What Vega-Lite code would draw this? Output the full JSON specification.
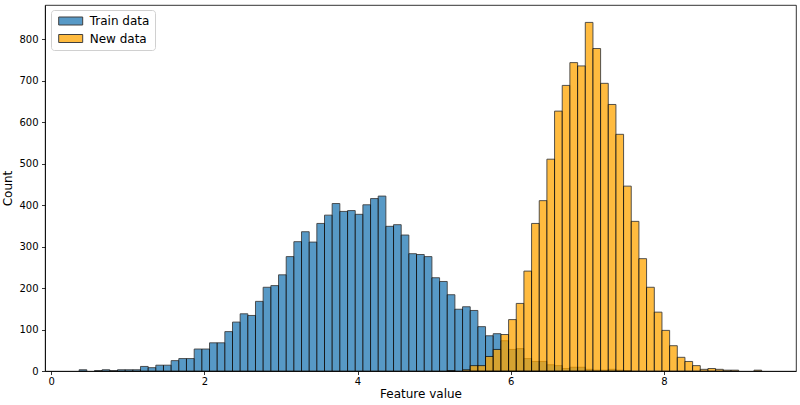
{
  "$schema": "https://vega.github.io/schema/vega-lite/v6.json",
  "width": 751,
  "height": 366,
  "autosize": {"type": "none"},
  "padding": {"left": 45, "top": 5, "right": 4, "bottom": 34},
  "background": "white",
  "data": {
    "values": [
      {"series": "Train data", "start": 0.366, "end": 0.466, "count": 3},
      {"series": "Train data", "start": 0.566, "end": 0.666, "count": 1},
      {"series": "Train data", "start": 0.666, "end": 0.766, "count": 3},
      {"series": "Train data", "start": 0.766, "end": 0.867, "count": 1},
      {"series": "Train data", "start": 0.867, "end": 0.967, "count": 3},
      {"series": "Train data", "start": 0.967, "end": 1.067, "count": 3},
      {"series": "Train data", "start": 1.067, "end": 1.167, "count": 3},
      {"series": "Train data", "start": 1.167, "end": 1.267, "count": 11},
      {"series": "Train data", "start": 1.267, "end": 1.367, "count": 8},
      {"series": "Train data", "start": 1.367, "end": 1.467, "count": 14},
      {"series": "Train data", "start": 1.467, "end": 1.567, "count": 14},
      {"series": "Train data", "start": 1.567, "end": 1.667, "count": 25},
      {"series": "Train data", "start": 1.667, "end": 1.767, "count": 30},
      {"series": "Train data", "start": 1.767, "end": 1.868, "count": 30},
      {"series": "Train data", "start": 1.868, "end": 1.968, "count": 53},
      {"series": "Train data", "start": 1.968, "end": 2.068, "count": 53},
      {"series": "Train data", "start": 2.068, "end": 2.168, "count": 68},
      {"series": "Train data", "start": 2.168, "end": 2.268, "count": 68},
      {"series": "Train data", "start": 2.268, "end": 2.368, "count": 95},
      {"series": "Train data", "start": 2.368, "end": 2.468, "count": 118},
      {"series": "Train data", "start": 2.468, "end": 2.568, "count": 138},
      {"series": "Train data", "start": 2.568, "end": 2.668, "count": 134},
      {"series": "Train data", "start": 2.668, "end": 2.768, "count": 168},
      {"series": "Train data", "start": 2.768, "end": 2.869, "count": 202},
      {"series": "Train data", "start": 2.869, "end": 2.969, "count": 206},
      {"series": "Train data", "start": 2.969, "end": 3.069, "count": 232},
      {"series": "Train data", "start": 3.069, "end": 3.169, "count": 276},
      {"series": "Train data", "start": 3.169, "end": 3.269, "count": 312},
      {"series": "Train data", "start": 3.269, "end": 3.369, "count": 336},
      {"series": "Train data", "start": 3.369, "end": 3.469, "count": 311},
      {"series": "Train data", "start": 3.469, "end": 3.569, "count": 356},
      {"series": "Train data", "start": 3.569, "end": 3.669, "count": 376},
      {"series": "Train data", "start": 3.669, "end": 3.769, "count": 404},
      {"series": "Train data", "start": 3.769, "end": 3.870, "count": 385},
      {"series": "Train data", "start": 3.870, "end": 3.970, "count": 387},
      {"series": "Train data", "start": 3.970, "end": 4.070, "count": 378},
      {"series": "Train data", "start": 4.070, "end": 4.170, "count": 401},
      {"series": "Train data", "start": 4.170, "end": 4.270, "count": 416},
      {"series": "Train data", "start": 4.270, "end": 4.370, "count": 422},
      {"series": "Train data", "start": 4.370, "end": 4.470, "count": 349},
      {"series": "Train data", "start": 4.470, "end": 4.570, "count": 353},
      {"series": "Train data", "start": 4.570, "end": 4.670, "count": 328},
      {"series": "Train data", "start": 4.670, "end": 4.770, "count": 283},
      {"series": "Train data", "start": 4.770, "end": 4.871, "count": 281},
      {"series": "Train data", "start": 4.871, "end": 4.971, "count": 276},
      {"series": "Train data", "start": 4.971, "end": 5.071, "count": 225},
      {"series": "Train data", "start": 5.071, "end": 5.171, "count": 216},
      {"series": "Train data", "start": 5.171, "end": 5.271, "count": 184},
      {"series": "Train data", "start": 5.271, "end": 5.371, "count": 149},
      {"series": "Train data", "start": 5.371, "end": 5.471, "count": 155},
      {"series": "Train data", "start": 5.471, "end": 5.571, "count": 146},
      {"series": "Train data", "start": 5.571, "end": 5.671, "count": 107},
      {"series": "Train data", "start": 5.671, "end": 5.771, "count": 85},
      {"series": "Train data", "start": 5.771, "end": 5.872, "count": 90},
      {"series": "Train data", "start": 5.872, "end": 5.972, "count": 73},
      {"series": "Train data", "start": 5.972, "end": 6.072, "count": 52},
      {"series": "Train data", "start": 6.072, "end": 6.172, "count": 54},
      {"series": "Train data", "start": 6.172, "end": 6.272, "count": 30},
      {"series": "Train data", "start": 6.272, "end": 6.372, "count": 23},
      {"series": "Train data", "start": 6.372, "end": 6.472, "count": 23},
      {"series": "Train data", "start": 6.472, "end": 6.572, "count": 15},
      {"series": "Train data", "start": 6.572, "end": 6.672, "count": 13},
      {"series": "Train data", "start": 6.672, "end": 6.772, "count": 6},
      {"series": "Train data", "start": 6.772, "end": 6.873, "count": 9},
      {"series": "Train data", "start": 6.873, "end": 6.973, "count": 9},
      {"series": "Train data", "start": 6.973, "end": 7.073, "count": 4},
      {"series": "Train data", "start": 7.073, "end": 7.173, "count": 2},
      {"series": "Train data", "start": 7.173, "end": 7.273, "count": 2},
      {"series": "Train data", "start": 7.273, "end": 7.373, "count": 4},
      {"series": "Train data", "start": 7.373, "end": 7.473, "count": 2},
      {"series": "Train data", "start": 7.473, "end": 7.573, "count": 1},
      {"series": "New data", "start": 5.171, "end": 5.271, "count": 1},
      {"series": "New data", "start": 5.371, "end": 5.471, "count": 3},
      {"series": "New data", "start": 5.471, "end": 5.571, "count": 13},
      {"series": "New data", "start": 5.571, "end": 5.671, "count": 13},
      {"series": "New data", "start": 5.671, "end": 5.771, "count": 35},
      {"series": "New data", "start": 5.771, "end": 5.872, "count": 52},
      {"series": "New data", "start": 5.872, "end": 5.972, "count": 88},
      {"series": "New data", "start": 5.972, "end": 6.072, "count": 124},
      {"series": "New data", "start": 6.072, "end": 6.172, "count": 163},
      {"series": "New data", "start": 6.172, "end": 6.272, "count": 241},
      {"series": "New data", "start": 6.272, "end": 6.372, "count": 356},
      {"series": "New data", "start": 6.372, "end": 6.472, "count": 411},
      {"series": "New data", "start": 6.472, "end": 6.572, "count": 511},
      {"series": "New data", "start": 6.572, "end": 6.672, "count": 627},
      {"series": "New data", "start": 6.672, "end": 6.772, "count": 689},
      {"series": "New data", "start": 6.772, "end": 6.873, "count": 744},
      {"series": "New data", "start": 6.873, "end": 6.973, "count": 736},
      {"series": "New data", "start": 6.973, "end": 7.073, "count": 841},
      {"series": "New data", "start": 7.073, "end": 7.173, "count": 778},
      {"series": "New data", "start": 7.173, "end": 7.273, "count": 694},
      {"series": "New data", "start": 7.273, "end": 7.373, "count": 643},
      {"series": "New data", "start": 7.373, "end": 7.473, "count": 571},
      {"series": "New data", "start": 7.473, "end": 7.573, "count": 446},
      {"series": "New data", "start": 7.573, "end": 7.673, "count": 361},
      {"series": "New data", "start": 7.673, "end": 7.773, "count": 271},
      {"series": "New data", "start": 7.773, "end": 7.874, "count": 202},
      {"series": "New data", "start": 7.874, "end": 7.974, "count": 142},
      {"series": "New data", "start": 7.974, "end": 8.074, "count": 98},
      {"series": "New data", "start": 8.074, "end": 8.174, "count": 61},
      {"series": "New data", "start": 8.174, "end": 8.274, "count": 33},
      {"series": "New data", "start": 8.274, "end": 8.374, "count": 23},
      {"series": "New data", "start": 8.374, "end": 8.474, "count": 13},
      {"series": "New data", "start": 8.474, "end": 8.574, "count": 4},
      {"series": "New data", "start": 8.574, "end": 8.674, "count": 6},
      {"series": "New data", "start": 8.674, "end": 8.774, "count": 4},
      {"series": "New data", "start": 8.774, "end": 8.875, "count": 2},
      {"series": "New data", "start": 8.875, "end": 8.975, "count": 2},
      {"series": "New data", "start": 9.175, "end": 9.275, "count": 2}
    ]
  },
  "mark": {"type": "rect", "opacity": 0.75, "stroke": "black", "strokeWidth": 0.9},
  "encoding": {
    "x": {
      "field": "start",
      "type": "quantitative",
      "title": "Feature value",
      "scale": {"domain": [-0.0796, 9.7236], "nice": false, "zero": false},
      "axis": {"values": [0, 2, 4, 6, 8], "format": "d"}
    },
    "x2": {"field": "end"},
    "y": {
      "field": "count",
      "type": "quantitative",
      "title": "Count",
      "scale": {"domain": [0, 883], "nice": false},
      "axis": {"values": [0, 100, 200, 300, 400, 500, 600, 700, 800], "format": "d"}
    },
    "y2": {"datum": 0},
    "color": {
      "field": "series",
      "type": "nominal",
      "scale": {"domain": ["Train data", "New data"], "range": ["#1f77b4", "#ffa500"]},
      "legend": {
        "title": null,
        "orient": "none",
        "legendX": 6,
        "legendY": 5,
        "fillColor": "white",
        "strokeColor": "#d0d0d0",
        "cornerRadius": 3,
        "padding": 5,
        "symbolType": "M-3,-1H3V1H-3Z",
        "symbolSize": 64,
        "symbolOffset": 8.7,
        "symbolOpacity": 0.75,
        "symbolStrokeColor": "black",
        "symbolStrokeWidth": 1,
        "labelOffset": 13,
        "labelFontSize": 12,
        "labelFont": "DejaVu Sans",
        "labelColor": "black",
        "rowPadding": 5.5
      }
    }
  },
  "config": {
    "view": {"stroke": "black", "strokeWidth": 0.8},
    "axis": {
      "grid": false,
      "domainColor": "black",
      "domainWidth": 0.8,
      "tickColor": "black",
      "tickWidth": 0.8,
      "tickSize": 3.5,
      "labelFont": "DejaVu Sans",
      "labelFontSize": 10,
      "labelColor": "black",
      "titleFont": "DejaVu Sans",
      "titleFontSize": 12,
      "titleFontWeight": "normal",
      "titleColor": "black"
    },
    "axisX": {"labelPadding": 2, "titlePadding": 2},
    "axisY": {"labelPadding": 3.5, "titlePadding": 4}
  }
}
